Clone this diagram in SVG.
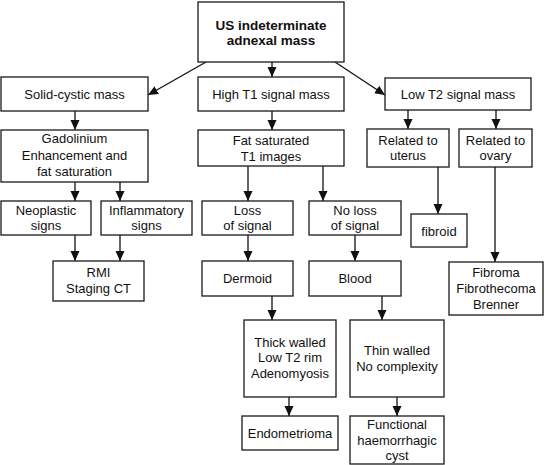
<svg xmlns="http://www.w3.org/2000/svg" width="545" height="465" viewBox="0 0 545 465">
<style>
rect{fill:#fff;stroke:#1a1a1a;stroke-width:1.3}
text{font-family:"Liberation Sans",Arial,sans-serif;font-size:13px;fill:#111;text-anchor:middle}
.b{font-weight:bold;font-size:13.5px}
#connectors line{stroke:#111;stroke-width:1.3;marker-end:url(#ah)}
</style>
<defs>
<marker id="ah" markerUnits="userSpaceOnUse" markerWidth="10" markerHeight="10" viewBox="0 0 10 10" refX="10" refY="5" orient="auto">
<path d="M0,0.5 L10,5 L0,9.5 z" fill="#111"/>
</marker>
</defs>
<rect x="0" y="0" width="545" height="465" style="fill:#fff;stroke:none"/>
<g id="connectors">
<line x1="206" y1="62" x2="148" y2="95"/>
<line x1="272" y1="62" x2="272" y2="77"/>
<line x1="335" y1="62" x2="385" y2="95"/>
<line x1="75" y1="111" x2="75" y2="130"/>
<line x1="272" y1="111" x2="272" y2="130"/>
<line x1="408" y1="110" x2="408" y2="129"/>
<line x1="496" y1="110" x2="496" y2="129"/>
<line x1="75" y1="182" x2="75" y2="201"/>
<line x1="120" y1="182" x2="120" y2="201"/>
<line x1="248" y1="166" x2="248" y2="201"/>
<line x1="323" y1="166" x2="323" y2="201"/>
<line x1="438" y1="167" x2="438" y2="214"/>
<line x1="495" y1="167" x2="495" y2="262"/>
<line x1="75" y1="235" x2="75" y2="261"/>
<line x1="120" y1="235" x2="120" y2="261"/>
<line x1="248" y1="235" x2="248" y2="261"/>
<line x1="355" y1="235" x2="355" y2="261"/>
<line x1="272" y1="296" x2="272" y2="320"/>
<line x1="382" y1="296" x2="382" y2="320"/>
<line x1="289" y1="397" x2="289" y2="416"/>
<line x1="397" y1="397" x2="397" y2="416"/>
</g>
<g id="n-top"><rect x="198" y="2" width="146" height="60"/><text class="b" x="271" y="30">US indeterminate</text><text class="b" x="271" y="45">adnexal mass</text></g>
<g id="n-solid"><rect x="1" y="77" width="147" height="34"/><text x="74.5" y="99">Solid-cystic mass</text></g>
<g id="n-hight1"><rect x="198" y="77" width="146" height="34"/><text x="271" y="99">High T1 signal mass</text></g>
<g id="n-lowt2"><rect x="385" y="78" width="146" height="32"/><text x="458" y="99">Low T2 signal mass</text></g>
<g id="n-gado"><rect x="1" y="130" width="147" height="52"/><text x="74.5" y="143">Gadolinium</text><text x="74.5" y="159.5">Enhancement and</text><text x="74.5" y="176">fat saturation</text></g>
<g id="n-fatsat"><rect x="198" y="130" width="146" height="36"/><text x="271" y="145">Fat saturated</text><text x="271" y="161">T1 images</text></g>
<g id="n-uterus"><rect x="367" y="129" width="82" height="38"/><text x="408" y="145">Related to</text><text x="408" y="160">uterus</text></g>
<g id="n-ovary"><rect x="459" y="129" width="73" height="38"/><text x="495.5" y="145">Related to</text><text x="495.5" y="160">ovary</text></g>
<g id="n-neo"><rect x="1" y="201" width="90" height="34"/><text x="46" y="215">Neoplastic</text><text x="46" y="230">signs</text></g>
<g id="n-infl"><rect x="101" y="201" width="91" height="34"/><text x="146.5" y="215">Inflammatory</text><text x="146.5" y="230">signs</text></g>
<g id="n-loss"><rect x="202" y="201" width="91" height="34"/><text x="247.5" y="215">Loss</text><text x="247.5" y="230">of signal</text></g>
<g id="n-noloss"><rect x="309" y="201" width="92" height="34"/><text x="355" y="215">No loss</text><text x="355" y="230">of signal</text></g>
<g id="n-fibroid"><rect x="411" y="214" width="56" height="33"/><text x="439" y="236">fibroid</text></g>
<g id="n-rmi"><rect x="53" y="261" width="91" height="40"/><text x="98.5" y="277">RMI</text><text x="98.5" y="293">Staging CT</text></g>
<g id="n-dermoid"><rect x="202" y="261" width="91" height="35"/><text x="247.5" y="283">Dermoid</text></g>
<g id="n-blood"><rect x="309" y="261" width="92" height="35"/><text x="355" y="283">Blood</text></g>
<g id="n-fibroma"><rect x="449" y="262" width="94" height="53"/><text x="496" y="277">Fibroma</text><text x="496" y="293">Fibrothecoma</text><text x="496" y="309">Brenner</text></g>
<g id="n-thick"><rect x="244" y="320" width="92" height="77"/><text x="290" y="347">Thick walled</text><text x="290" y="362">Low T2 rim</text><text x="290" y="378">Adenomyosis</text></g>
<g id="n-thin"><rect x="350" y="320" width="94" height="77"/><text x="397" y="355">Thin walled</text><text x="397" y="371">No complexity</text></g>
<g id="n-endo"><rect x="242" y="416" width="96" height="34"/><text x="290" y="438">Endometrioma</text></g>
<g id="n-func"><rect x="350" y="416" width="94" height="48"/><text x="397" y="429">Functional</text><text x="397" y="445">haemorrhagic</text><text x="397" y="460">cyst</text></g>
</svg>
